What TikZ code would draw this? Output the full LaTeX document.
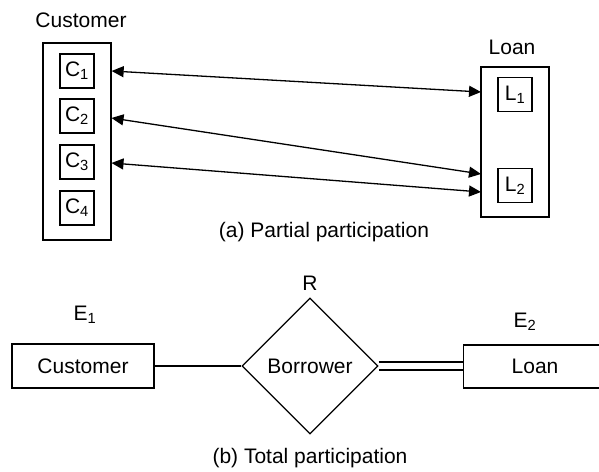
\documentclass[tikz,border=0pt]{standalone}
\usepackage{fontspec}
\setmainfont{Liberation Sans}
\usetikzlibrary{shapes.geometric,arrows.meta}
\begin{document}
\begin{tikzpicture}[x=1pt,y=-1pt,
  every node/.style={font=\fontsize{21}{25}\selectfont},
  box/.style={draw,line width=1.3pt,inner sep=0pt},
  elem/.style={box,minimum width=34pt,minimum height=34pt},
  link/.style={line width=1.3pt,{Triangle[length=12pt,width=11pt]}-{Triangle[length=12pt,width=11pt]}},
  lbl/.style={inner sep=0pt}]
\clip (0,0) rectangle (599,471);
\useasboundingbox (0,0) rectangle (599,471);
% (a)
\node[lbl] (custlbl) at (81,20) {Customer};
\node[box,minimum width=68pt,minimum height=197pt] (cust) at (77,141.5) {};
\node[elem] (c1) at (77,71) {C\textsubscript{1}};
\node[elem] (c2) at (77,116) {C\textsubscript{2}};
\node[elem] (c3) at (77,162) {C\textsubscript{3}};
\node[elem] (c4) at (77,208) {C\textsubscript{4}};
\node[lbl] (loanlbl) at (512,47) {Loan};
\node[box,minimum width=68pt,minimum height=150pt] (loan) at (515,142) {};
\node[elem] (l1) at (515,94.5) {L\textsubscript{1}};
\node[elem] (l2) at (515,185.5) {L\textsubscript{2}};
\coordinate (r1) at (481,92);
\coordinate (r2) at (481,174);
\coordinate (r3) at (481,192);
\coordinate (q2) at (111.5,118);
\coordinate (q3) at (111.5,163);
\draw[link] (cust.east |- c1) -- (r1);
\draw[link] (q2) -- (r2);
\draw[link] (q3) -- (r3);
\node[lbl] (capa) at (324,232) {(a) Partial participation};
% (b)
\node[box,minimum width=142pt,minimum height=44pt] (ecust) at (83,366) {Customer};
\node[lbl] (e1) at (85,315) {E\textsubscript{1}};
\node[draw,line width=1.3pt,diamond,minimum width=136pt,minimum height=136pt,inner sep=0pt] (rel) at (310,366) {Borrower};
\node[lbl] (rl) at (310,283) {R};
\node[box,minimum width=150pt,minimum height=43pt,anchor=west] (eloan) at (463,366.5) {};
\node[lbl] (loantxt) at (535,366.5) {Loan};
\node[lbl] (e2) at (525,322) {E\textsubscript{2}};
\draw[line width=1.3pt] (ecust.east) -- (rel.west);
\draw[line width=1.3pt,double,double distance=6.5pt] (rel.east) -- (eloan.west |- rel.east);
\node[lbl] (capb) at (310,458) {(b) Total participation};
\end{tikzpicture}
\end{document}
